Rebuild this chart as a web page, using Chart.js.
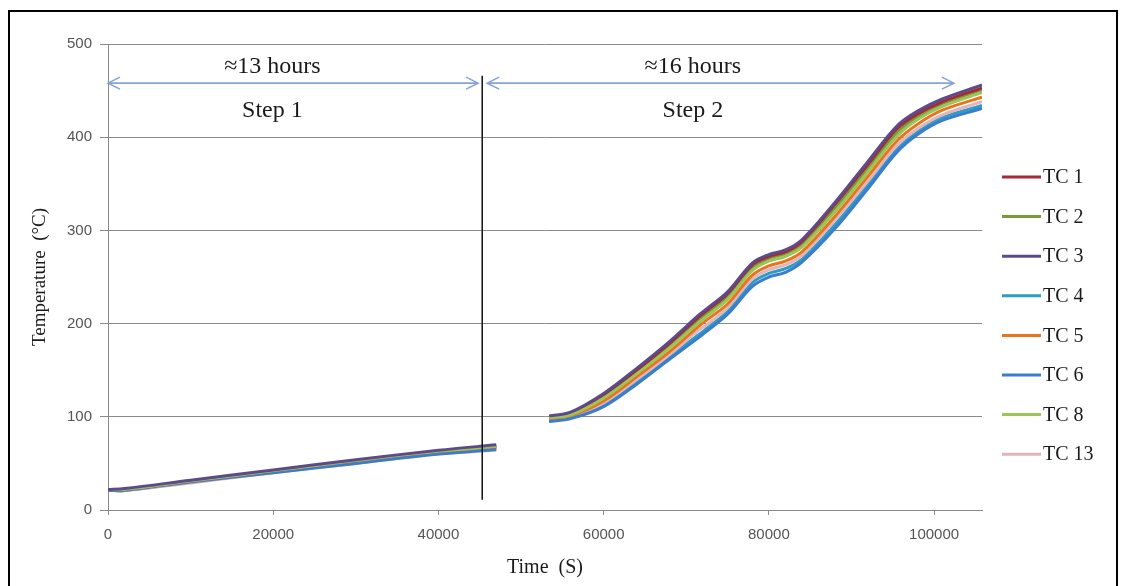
<!DOCTYPE html>
<html>
<head>
<meta charset="utf-8">
<script src="https://cdn.jsdelivr.net/npm/chart.js@4.4.1/dist/chart.umd.min.js"></script>
<style>
  html, body { margin: 0; padding: 0; background: #fff; }
  #wrap { position: relative; width: 1121px; height: 586px; overflow: hidden; }
  #frame { position: absolute; left: 8px; top: 10px; width: 1110px; height: 620px; border: 2px solid #000; box-sizing: border-box; pointer-events: none; }
  canvas { position: absolute; left: 0; top: 0; }
</style>
</head>
<body>
<div id="wrap">
  <canvas id="chart" width="1121" height="586"></canvas>
  <div id="frame"></div>
</div>
<script>
// series names and colours
const names = ['TC 1', 'TC 2', 'TC 3', 'TC 4', 'TC 5', 'TC 6', 'TC 8', 'TC 13'];
const colors = ['#a52a38', '#7a9a36', '#5e4a88', '#2c9ebf', '#e8741c', '#3a7cd0', '#9cc456', '#e4b4bc'];

// step 1 (time in s)
const time1 = [0, 2000, 10000, 20000, 30000, 40000, 47000];
const tc1_1  = [22, 22, 31, 42, 53, 63, 68];
const tc2_1  = [22, 22, 31, 42, 53, 63, 69];
const tc3_1  = [22, 23, 32, 43, 54, 64, 70];
const tc4_1  = [21, 21, 30, 41, 51, 61, 66];
const tc5_1  = [22, 22, 31, 42, 52, 62, 67];
const tc6_1  = [21, 21, 30, 40, 50, 60, 65];
const tc8_1  = [22, 22, 31, 42, 53, 63, 68];
const tc13_1 = [21, 21, 29, 40, 50, 60, 64];

// step 2
const time2 = [53400, 56000, 60000, 64000, 68000, 71500, 72500, 75000, 78000, 80000, 82000, 84000, 88000, 92000, 95500, 98000, 101000, 105800];
const tc1_2  = [100, 104, 124, 150, 179, 207, 214, 232, 263, 272, 277, 288, 328, 371, 409, 425, 438, 453];
const tc2_2  = [100, 103, 122, 148, 176, 204, 211, 229, 260, 270, 275, 285, 324, 367, 405, 422, 436, 451];
const tc3_2  = [101, 105, 125, 152, 181, 209, 216, 234, 265, 274, 279, 290, 330, 374, 412, 428, 441, 456];
const tc4_2  = [96, 99, 113, 137, 165, 188, 195, 213, 244, 254, 259, 269, 306, 349, 387, 406, 421, 434];
const tc5_2  = [98, 101, 117, 143, 170, 197, 204, 221, 252, 262, 267, 277, 315, 358, 396, 414, 429, 443];
const tc6_2  = [95, 98, 111, 135, 162, 185, 192, 210, 240, 250, 255, 266, 302, 345, 384, 403, 418, 431];
const tc8_2  = [99, 102, 120, 146, 174, 201, 208, 226, 257, 267, 272, 282, 320, 363, 401, 419, 433, 448];
const tc13_2 = [97, 100, 115, 140, 167, 193, 199, 217, 248, 258, 263, 273, 311, 353, 391, 409, 424, 438];

const step1 = [tc1_1, tc2_1, tc3_1, tc4_1, tc5_1, tc6_1, tc8_1, tc13_1];
const step2 = [tc1_2, tc2_2, tc3_2, tc4_2, tc5_2, tc6_2, tc8_2, tc13_2];

// axes
const xTicks = [0, 20000, 40000, 60000, 80000, 100000];
const xMax = 105800;
const yTicks = [0, 100, 200, 300, 400, 500];

// annotations
const dividerX = 45300;
const dividerY = [11, 466];
const spanFrom = [0, 45900];
const spanTo = [44800, 102400];
const spanY = 458;
const hoursText = ['≈13 hours', '≈16 hours'];
const stepText = ['Step 1', 'Step 2'];
const textX = [19900, 70800];
const hoursY = 476;
const stepY = 428;

const serif = '"Liberation Serif", "Times New Roman", serif';
const sans = '"Liberation Sans", Arial, sans-serif';

function seriesData(i) {
  const a = time1.map((t, k) => ({ x: t, y: step1[i][k] }));
  const b = time2.map((t, k) => ({ x: t, y: step2[i][k] }));
  return a.concat([{ x: 50000, y: null }], b);
}

// draw order: purple on top, pink below
const drawOrder = [3, 5, 1, 8, 6, 4, 2, 7];

const datasets = names.map((n, i) => ({
  label: n,
  data: seriesData(i),
  borderColor: colors[i],
  backgroundColor: colors[i],
  borderWidth: 3,
  pointRadius: 0,
  tension: 0.35,
  spanGaps: false,
  order: drawOrder[i]
}));

const annotations = {
  id: 'annotations',
  afterDatasetsDraw(chart) {
    const { ctx, scales: { x, y } } = chart;
    ctx.save();
    // vertical divider
    ctx.strokeStyle = '#111';
    ctx.lineWidth = 1.5;
    ctx.beginPath();
    ctx.moveTo(x.getPixelForValue(dividerX), y.getPixelForValue(dividerY[1]));
    ctx.lineTo(x.getPixelForValue(dividerX), y.getPixelForValue(dividerY[0]));
    ctx.stroke();

    // double arrows
    ctx.strokeStyle = '#86a4d4';
    ctx.lineWidth = 1.6;
    const py = y.getPixelForValue(spanY);
    spanFrom.forEach((s, i) => {
      const x0 = x.getPixelForValue(s), x1 = x.getPixelForValue(spanTo[i]);
      ctx.beginPath();
      ctx.moveTo(x0, py); ctx.lineTo(x1, py);
      ctx.moveTo(x0 + 12, py - 6); ctx.lineTo(x0, py); ctx.lineTo(x0 + 12, py + 6);
      ctx.moveTo(x1 - 12, py - 6); ctx.lineTo(x1, py); ctx.lineTo(x1 - 12, py + 6);
      ctx.stroke();
    });

    // labels
    ctx.fillStyle = '#1a1a1a';
    ctx.textAlign = 'center';
    ctx.textBaseline = 'middle';
    ctx.font = '24px ' + serif;
    textX.forEach((t, i) => {
      ctx.fillText(hoursText[i], x.getPixelForValue(t), y.getPixelForValue(hoursY));
      ctx.fillText(stepText[i], x.getPixelForValue(t), y.getPixelForValue(stepY));
    });
    ctx.restore();
  }
};

const sideLegend = {
  id: 'sideLegend',
  afterDraw(chart) {
    const { ctx } = chart;
    ctx.save();
    ctx.font = '20px ' + serif;
    ctx.textBaseline = 'middle';
    ctx.textAlign = 'left';
    chart.data.datasets.forEach((ds, i) => {
      const ly = 177 + i * 39.6;
      ctx.strokeStyle = ds.borderColor;
      ctx.lineWidth = 3;
      ctx.beginPath();
      ctx.moveTo(1002, ly); ctx.lineTo(1041, ly);
      ctx.stroke();
      ctx.fillStyle = '#1a1a1a';
      ctx.fillText(ds.label, 1043, ly + 1);
    });
    ctx.restore();
  }
};

new Chart(document.getElementById('chart'), {
  type: 'line',
  data: { datasets },
  options: {
    responsive: false,
    animation: false,
    layout: { padding: { top: 44, right: 139, left: 0, bottom: 0 } },
    plugins: { legend: { display: false }, tooltip: { enabled: false } },
    scales: {
      x: {
        type: 'linear',
        min: 0,
        max: xMax,
        afterBuildTicks(s) { s.ticks = xTicks.map(v => ({ value: v })); },
        afterFit(s) { s.height = 76; },
        ticks: { color: '#555', font: { family: sans, size: 15 }, padding: 11, maxRotation: 0, callback: v => String(v) },
        grid: { drawOnChartArea: false, drawTicks: true, tickLength: 5, color: '#8a8a8a' },
        border: { color: '#8a8a8a', width: 1 },
        title: { display: true, text: 'Time  (S)', color: '#1a1a1a', font: { family: serif, size: 20 }, padding: { top: 0, bottom: 6 } }
      },
      y: {
        min: 0,
        max: 500,
        afterBuildTicks(s) { s.ticks = yTicks.map(v => ({ value: v })); },
        afterFit(s) { s.width = 108; },
        ticks: { color: '#555', font: { family: sans, size: 15 }, padding: 8 },
        grid: { color: '#8a8a8a', tickLength: 8 },
        border: { color: '#8a8a8a', width: 1 },
        title: { display: true, text: 'Temperature  (°C)', color: '#1a1a1a', font: { family: serif, size: 19 }, padding: { top: 29, bottom: 0 } }
      }
    }
  },
  plugins: [annotations, sideLegend]
});
</script>
</body>
</html>
